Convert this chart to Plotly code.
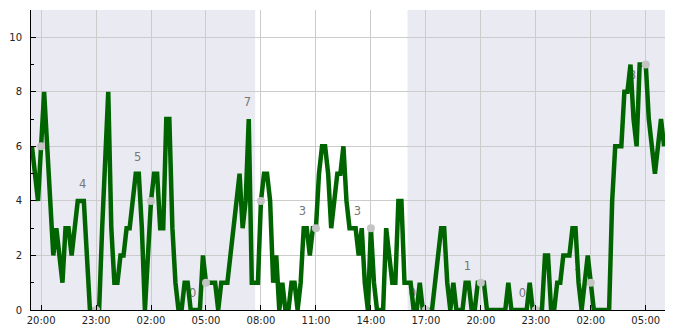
import pandas as pd
import plotly.graph_objects as go

# ---- data (10-minute readings) ----
start_time = "2024-01-01 19:30"
values = [
    6, 5, 4,
    6, 8, 6, 4, 2, 3,   # 20h
    2, 1, 3, 3, 2, 3,   # 21h
    4, 4, 4, 2, 0, 0,   # 22h
    0, 0, 3, 6, 8, 3,   # 23h
    1, 1, 2, 2, 3, 3,   # 00h
    4, 5, 5, 3, 0, 2,   # 01h
    4, 5, 5, 3, 3, 7,   # 02h
    7, 3, 1, 0, 0, 1,   # 03h
    1, 0, 0, 0, 0, 2,   # 04h
    1, 1, 1, 1, 0, 1,   # 05h
    1, 1, 2, 3, 4, 5,   # 06h
    3, 4, 7, 1, 1, 1,   # 07h
    4, 5, 5, 4, 1, 2,   # 08h
    0, 1, 0, 0, 1, 1,   # 09h
    0, 1, 3, 3, 2, 3,   # 10h
    3, 5, 6, 6, 5, 3,   # 11h
    4, 5, 5, 6, 4, 3,   # 12h
    3, 3, 2, 3, 1, 0,   # 13h
    3, 1, 0, 0, 0, 3,   # 14h
    2, 1, 1, 4, 4, 1,   # 15h
    1, 1, 0, 0, 1, 0,   # 16h
    0, 0, 0, 1, 2, 3,   # 17h
    3, 1, 0, 1, 0, 0,   # 18h
    0, 1, 1, 0, 0, 1,   # 19h
    1, 1, 0, 0, 0, 0,   # 20h
    0, 0, 0, 1, 0, 0,   # 21h
    0, 0, 0, 0, 1, 0,   # 22h
    0, 0, 0, 2, 2, 0,   # 23h
    0, 1, 1, 2, 2, 2,   # 00h
    3, 3, 1, 0, 1, 2,   # 01h
    1, 0, 0, 0, 0, 0,   # 02h
    0, 4, 6, 6, 6, 8,   # 03h
    8, 9, 7, 6, 9, 9,   # 04h
    9, 7, 6, 5, 6, 7,   # 05h
    6,                  # 06h
]

marker_times = ["2024-01-01 20:00", "2024-01-01 23:00", "2024-01-02 02:00", "2024-01-02 05:00",
                "2024-01-02 08:00", "2024-01-02 11:00", "2024-01-02 14:00", "2024-01-02 17:00",
                "2024-01-02 20:00", "2024-01-02 23:00", "2024-01-03 02:00", "2024-01-03 05:00"]
marker_values = [6, 0, 4, 1, 4, 3, 3, 0, 1, 0, 1, 9]

label_times = marker_times[1:]
label_texts = ["4", "5", "0", "7", "3", "3", "0", "1", "0", "1", "8"]
label_nums = [4, 5, 0, 7, 3, 3, 0, 1, 0, 1, 8]

night_periods = [("2024-01-01 19:00", "2024-01-02 07:41"),
                 ("2024-01-02 16:00", "2024-01-03 07:00")]
x_range = ["2024-01-01 19:27", "2024-01-03 06:03"]

# ---- build ----
times = pd.date_range(start_time, periods=len(values), freq="10min")
label_x = pd.to_datetime(label_times) - pd.Timedelta(minutes=44)
label_y = [n + 0.58 for n in label_nums]

fig = go.Figure()
fig.add_trace(go.Scatter(
    x=label_x, y=label_y, mode="text", text=label_texts,
    textfont=dict(family="DejaVu Sans", size=11.5, color="#777777"),
    hoverinfo="skip", showlegend=False))
fig.add_trace(go.Scatter(
    x=times, y=values, mode="lines",
    line=dict(color="#006400", width=4.5), showlegend=False))
fig.add_trace(go.Scatter(
    x=pd.to_datetime(marker_times), y=marker_values, mode="markers",
    marker=dict(color="#c4c4c4", size=8), showlegend=False))

for a, b in night_periods:
    fig.add_shape(type="rect", xref="x", yref="paper", x0=a, x1=b, y0=0, y1=1,
                  fillcolor="#eaeaf2", line_width=0, layer="below")

fig.update_layout(
    width=685, height=330,
    margin=dict(l=31, r=20, t=10, b=20),
    paper_bgcolor="white", plot_bgcolor="white",
    font=dict(family="DejaVu Sans", size=10, color="#222222"),
    showlegend=False,
)
fig.update_xaxes(
    type="date", range=x_range, tickformat="%H:%M",
    dtick=3 * 3600 * 1000, tick0="2024-01-01 02:00",
    showgrid=True, gridcolor="#cccccc", gridwidth=1,
    showline=True, linecolor="black", linewidth=1,
    ticks="inside", ticklen=5, tickcolor="black",
    ticklabelstandoff=1,
    zeroline=False, automargin=False,
)
fig.update_yaxes(
    range=[0, 11], dtick=2, tick0=0,
    showgrid=True, gridcolor="#cccccc", gridwidth=1,
    showline=True, linecolor="black", linewidth=1,
    ticks="inside", ticklen=5, tickcolor="black",
    ticklabelstandoff=6,
    minor=dict(dtick=1, ticks="inside", ticklen=3, tickcolor="black", showgrid=False),
    zeroline=False, automargin=False,
)

fig.write_html("out.html", config={"displayModeBar": False})
